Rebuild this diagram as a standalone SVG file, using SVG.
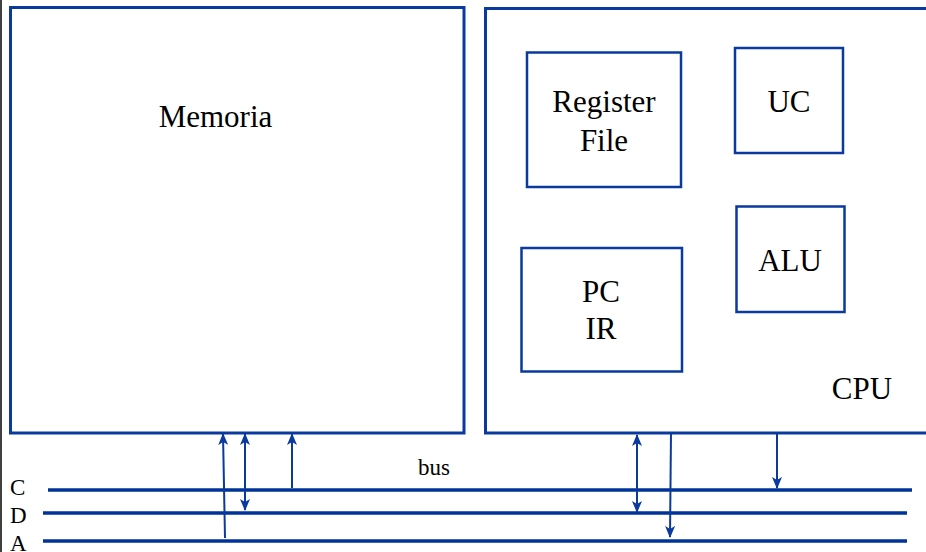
<svg xmlns="http://www.w3.org/2000/svg" width="926" height="552" viewBox="0 0 926 552">
<defs>
<style>
.box{fill:#fff;stroke:#0a3a9e;stroke-width:2.5}
.outer{fill:#fff;stroke:#0a3a9e;stroke-width:3}
.lbl{font-family:"Liberation Serif","Times New Roman",serif;font-size:31px;fill:#000;text-anchor:middle}
.small{font-family:"Liberation Serif","Times New Roman",serif;font-size:23px;fill:#000}
.bus{stroke:#003399;stroke-width:3.5;fill:none}
.arr{stroke:#0a3a9e;stroke-width:2;fill:none}
</style>
<marker id="ah" viewBox="0 0 12 10" refX="11" refY="5" markerWidth="12" markerHeight="10" markerUnits="userSpaceOnUse" orient="auto-start-reverse">
<path d="M0,0 L12,5 L0,10 L3,5 z" fill="#0a3a9e"/>
</marker>
</defs>
<rect width="926" height="552" fill="#fff"/>
<line x1="1" y1="0" x2="1" y2="552" stroke="#000" stroke-width="1.5"/>
<g id="memoria">
<rect class="outer" x="10.5" y="7.5" width="453.5" height="425.5"/>
<text class="lbl" x="215.5" y="127">Memoria</text>
</g>
<g id="cpu">
<rect class="outer" x="485.5" y="8.5" width="460" height="424.5"/>
<text class="lbl" x="862" y="399">CPU</text>
</g>
<g id="regfile">
<rect class="box" x="527" y="52.5" width="154" height="134.5"/>
<text class="lbl" x="604" y="112">Register</text>
<text class="lbl" x="604" y="151">File</text>
</g>
<g id="uc">
<rect class="box" x="735" y="48" width="108" height="105"/>
<text class="lbl" x="789" y="112">UC</text>
</g>
<g id="alu">
<rect class="box" x="736.5" y="206.5" width="108" height="105.5"/>
<text class="lbl" x="790" y="271">ALU</text>
</g>
<g id="pcir">
<rect class="box" x="521.5" y="248" width="160.5" height="123.5"/>
<text class="lbl" x="601" y="302">PC</text>
<text class="lbl" x="601" y="339">IR</text>
</g>
<g id="buslines">
<line class="bus" x1="48" y1="490" x2="912" y2="490"/>
<line class="bus" x1="43" y1="513" x2="907" y2="513"/>
<line class="bus" x1="43" y1="541" x2="907" y2="541"/>
<text class="small" x="10" y="495">C</text>
<text class="small" x="10" y="523">D</text>
<text class="small" x="10" y="551">A</text>
<text class="small" x="418" y="475">bus</text>
</g>
<g id="connectors">
<line class="arr" x1="225" y1="538" x2="223" y2="434" marker-end="url(#ah)"/>
<line class="arr" x1="245" y1="510" x2="245" y2="434" marker-start="url(#ah)" marker-end="url(#ah)"/>
<line class="arr" x1="292" y1="488" x2="292" y2="434" marker-end="url(#ah)"/>
<line class="arr" x1="637" y1="512" x2="637" y2="435" marker-start="url(#ah)" marker-end="url(#ah)"/>
<line class="arr" x1="671" y1="433" x2="670" y2="537" marker-end="url(#ah)"/>
<line class="arr" x1="777" y1="433" x2="777" y2="488" marker-end="url(#ah)"/>
</g>
</svg>
